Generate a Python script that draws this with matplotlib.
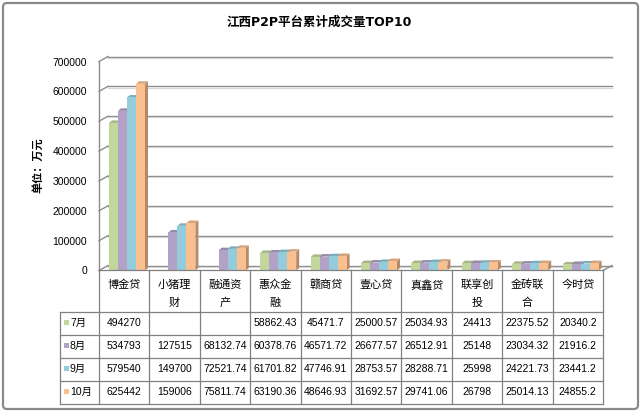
import matplotlib
matplotlib.use('Agg')
import matplotlib.pyplot as plt
from matplotlib.patches import Polygon, FancyBboxPatch, Rectangle
import numpy as np

# ---------------- data ----------------
categories = ['博金贷', '小猪理财', '融通资产', '惠众金融', '赣商贷',
              '壹心贷', '真鑫贷', '联享创投', '金砖联合', '今时贷']
series_names = ['7月', '8月', '9月', '10月']
jul = [494270, None, None, 58862.43, 45471.7, 25000.57, 25034.93, 24413, 22375.52, 20340.2]
aug = [534793, 127515, 68132.74, 60378.76, 46571.72, 26677.57, 26512.91, 25148, 23034.32, 21916.2]
sep = [579540, 149700, 72521.74, 61701.82, 47746.91, 28753.57, 28288.71, 25998, 24221.73, 23441.2]
octo = [625442, 159006, 75811.74, 63190.36, 48646.93, 31692.57, 29741.06, 26798, 25014.13, 24855.2]
yticks = [0, 100000, 200000, 300000, 400000, 500000, 600000, 700000]
title = '江西P2P平台累计成交量TOP10'
ylabel = '单位：万元'

series = [jul, aug, sep, octo]
front_colors = ['#C3D69B', '#B3A2C7', '#93CDDD', '#FAC090']

W, H = 641, 416
fig = plt.figure(figsize=(W / 100, H / 100), dpi=100)
fig.patch.set_facecolor('white')

CJK = 'Noto Sans CJK SC'
NUM = ['Liberation Sans', CJK]


def fx(x):
    return x / W


def fy(y):
    return 1 - y / H


# front plane of the plot: x 99..603, y(0)=270.5, y(700000)=61.5
X0, X1, Y0, Y1 = 99, 603, 270.5, 61.5
ax = fig.add_axes([fx(X0), fy(Y0), (X1 - X0) / W, (Y0 - Y1) / H])
ax.set_xlim(0, len(categories))
ax.set_ylim(0, 700000)
ax.axis('off')

px = len(categories) / (X1 - X0)      # data x per pixel
py = 700000 / (Y0 - Y1)               # data y per pixel
DX, DY = 9, 5                          # back wall offset in pixels
grid_c = '#8c8c8c'

for v in yticks:
    xb = [DX * px, len(categories) + DX * px]
    ax.plot(xb, [v + DY * py] * 2, color=grid_c, lw=1, clip_on=False, zorder=1)
    ax.plot(xb, [v + (DY - 1.2) * py] * 2, color='#d6d6d6', lw=0.8, clip_on=False, zorder=1)
    ax.plot([0, DX * px], [v, v + DY * py], color=grid_c, lw=1, clip_on=False, zorder=1)
ax.plot([len(categories), len(categories) + DX * px], [0, DY * py], color=grid_c, lw=1,
        clip_on=False, zorder=1)
ax.plot([0, 0], [0, 700000], color=grid_c, lw=1, clip_on=False, zorder=1)


def shade(c, f):
    c = np.array(matplotlib.colors.to_rgb(c))
    return tuple(np.clip(c * f, 0, 1))


bw = 9 * px
bdx, bdy = 3 * px, 2.5 * py
for i in range(len(categories)):
    for j, s in enumerate(series):
        v = s[i]
        if v is None:
            continue
        x0 = i + 10 * px + j * bw
        c = front_colors[j]
        # side face
        ax.add_patch(Polygon([(x0 + bw, 0), (x0 + bw + bdx, bdy), (x0 + bw + bdx, v + bdy),
                              (x0 + bw, v)], closed=True, facecolor=shade(c, 0.72),
                             edgecolor='none', clip_on=False, zorder=3))
        # top face
        ax.add_patch(Polygon([(x0, v), (x0 + bw, v), (x0 + bw + bdx, v + bdy),
                              (x0 + bdx, v + bdy)], closed=True, facecolor=shade(c, 0.85),
                             edgecolor='none', clip_on=False, zorder=3))
        ax.bar([x0], [v], width=bw, align='edge', color=c, edgecolor='none',
               zorder=3, clip_on=False)

# ---------------- overlay (pixel coordinates) ----------------
tb = fig.add_axes([0, 0, 1, 1])
tb.set_xlim(0, W)
tb.set_ylim(H, 0)
tb.axis('off')
tb.patch.set_alpha(0)

# border
tb.add_patch(FancyBboxPatch((3, 3), 635, 406, boxstyle='round,pad=0,rounding_size=4',
                            facecolor='none', edgecolor='#8a8a8a', lw=1.6))

# title and y label
tb.text(319.5, 22, title, ha='center', va='center', fontsize=9, fontweight='bold',
        family=['DejaVu Sans', CJK], color='black')
tb.text(38, 165, ylabel, ha='center', va='center', rotation=90, fontsize=8,
        fontweight='bold', family=[CJK], color='black')

# y tick labels
for v in yticks:
    yp = Y0 - v / py
    tb.text(87, yp + 1, str(v), ha='right', va='center', fontsize=7.5, family=NUM)

# table
line_c = '#808080'
col_w = (X1 - X0) / len(categories)
row_edges = [270, 311.5, 334.5, 357.5, 380.5, 403.5]
LX = 60
tb.plot([X0, X1], [row_edges[0]] * 2, color=line_c, lw=0.9)
for y in row_edges[1:]:
    tb.plot([LX, X1], [y, y], color=line_c, lw=0.9)
tb.plot([LX, LX], [row_edges[1], row_edges[-1]], color=line_c, lw=0.9)
for k in range(len(categories) + 1):
    xk = X0 + k * col_w
    tb.plot([xk, xk], [row_edges[0], row_edges[-1]], color=line_c, lw=0.9)


def fmt(v):
    if v is None:
        return ''
    s = '%.2f' % v
    return s.rstrip('0').rstrip('.')


for i, cat in enumerate(categories):
    cx = X0 + (i + 0.5) * col_w
    lines = [cat[:3], cat[3:]] if len(cat) > 3 else [cat]
    for li, t in enumerate(lines):
        tb.text(cx, 285 + li * 18, t, ha='center', va='center', fontsize=8, family=[CJK])
    for r, s in enumerate(series):
        cy = (row_edges[r + 1] + row_edges[r + 2]) / 2
        tb.text(cx, cy, fmt(s[i]), ha='center', va='center', fontsize=7.5, family=NUM)

for r, name in enumerate(series_names):
    cy = (row_edges[r + 1] + row_edges[r + 2]) / 2
    tb.add_patch(Rectangle((64, cy - 3), 5, 5, facecolor=front_colors[r], edgecolor='none'))
    tb.text(70, cy, name, ha='left', va='center', fontsize=7.5, family=NUM)

fig.savefig('out.png', dpi=100, facecolor='white')
